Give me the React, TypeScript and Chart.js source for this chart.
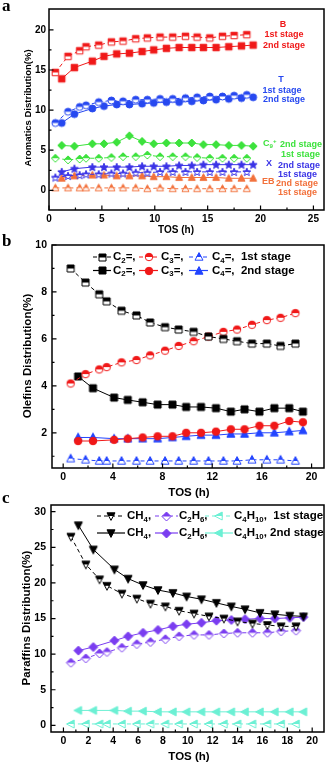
import React, { useEffect, useRef } from "react";
import { Chart, registerables } from "chart.js";
Chart.register(...registerables);

const FONT = "'Liberation Sans', Arial, sans-serif";
const SERIF = "'Liberation Serif', 'Times New Roman', serif";

// ---------- shared time axes ----------
const tos1st = [0.6, 1.8, 2.9, 3.5, 4.7, 5.9, 7.0, 8.2, 9.3, 10.5, 11.7, 12.9, 14.0, 15.2, 16.4, 17.5, 18.7];
const tos2nd = [1.2, 2.4, 4.1, 5.2, 6.4, 7.6, 8.8, 9.9, 11.1, 12.3, 13.5, 14.6, 15.8, 17.0, 18.2, 19.3];

// ---------- panel a: aromatics ----------
const aXTicks = [0, 5, 10, 15, 20, 25];
const aYTicks = [0, 5, 10, 15, 20];
const B1 = [14.7, 16.7, 17.4, 17.9, 18.1, 18.5, 18.6, 18.9, 19.0, 19.1, 19.1, 19.2, 19.1, 19.0, 19.2, 19.3, 19.4];
const B2 = [13.9, 15.3, 16.1, 16.7, 17.0, 17.1, 17.3, 17.5, 17.7, 17.8, 17.8, 17.8, 17.8, 17.9, 18.0, 18.1];
const T1 = [8.4, 9.8, 10.4, 10.6, 11.0, 11.2, 11.1, 11.3, 11.3, 11.4, 11.4, 11.5, 11.6, 11.7, 11.7, 11.8, 11.9];
const T2 = [8.4, 9.5, 10.2, 10.5, 10.7, 10.7, 10.8, 10.9, 11.0, 11.0, 11.1, 11.2, 11.3, 11.4, 11.5, 11.6];
const C9p1 = [4.0, 3.8, 3.9, 4.0, 4.0, 4.1, 4.2, 4.2, 4.4, 4.2, 4.2, 4.2, 4.1, 4.0, 4.0, 4.0, 4.0];
const C9p2 = [5.6, 5.5, 5.8, 5.8, 6.0, 6.8, 6.1, 5.8, 5.9, 5.9, 5.9, 5.7, 5.7, 5.6, 5.6, 5.5];
const X1 = [1.6, 1.8, 1.9, 2.0, 2.0, 2.1, 2.1, 2.2, 2.2, 2.3, 2.3, 2.3, 2.3, 2.3, 2.3, 2.3, 2.3];
const X2 = [2.3, 2.7, 2.9, 2.9, 2.9, 2.9, 3.0, 3.0, 3.0, 3.1, 3.1, 3.2, 3.2, 3.2, 3.2, 3.2];
const EB1 = [0.3, 0.3, 0.3, 0.3, 0.3, 0.3, 0.3, 0.3, 0.2, 0.3, 0.2, 0.2, 0.2, 0.2, 0.2, 0.2, 0.2];
const EB2 = [1.5, 1.8, 1.9, 1.9, 1.8, 1.8, 1.8, 1.7, 1.7, 1.6, 1.6, 1.6, 1.6, 1.5, 1.5, 1.5];

// ---------- panel b: olefins ----------
const bXTicks = [0, 4, 8, 12, 16, 20];
const bYTicks = [2, 4, 6, 8, 10];
const C2e1 = [9.0, 8.4, 7.9, 7.6, 7.2, 7.0, 6.7, 6.5, 6.4, 6.3, 6.1, 6.0, 5.9, 5.8, 5.8, 5.7, 5.8];
const C3e1 = [4.1, 4.5, 4.7, 4.8, 5.0, 5.1, 5.3, 5.5, 5.7, 5.9, 6.1, 6.3, 6.4, 6.6, 6.8, 6.9, 7.1];
const C4e1 = [0.9, 0.85, 0.8, 0.8, 0.8, 0.8, 0.8, 0.8, 0.8, 0.8, 0.8, 0.8, 0.8, 0.85, 0.85, 0.85, 0.8];
const C2e2 = [4.4, 3.9, 3.5, 3.4, 3.3, 3.2, 3.2, 3.1, 3.1, 3.05, 2.9, 3.0, 2.9, 3.05, 3.05, 2.9];
const C3e2 = [1.65, 1.65, 1.7, 1.75, 1.8, 1.85, 1.85, 2.0, 2.0, 2.05, 2.15, 2.15, 2.3, 2.3, 2.5, 2.45];
const C4e2 = [1.8, 1.8, 1.75, 1.75, 1.75, 1.75, 1.8, 1.85, 1.9, 1.9, 1.95, 1.95, 2.0, 2.0, 2.05, 2.1];

// ---------- panel c: paraffins ----------
const cXTicks = [0, 2, 4, 6, 8, 10, 12, 14, 16, 18, 20];
const cYTicks = [0, 5, 10, 15, 20, 25, 30];
const CH4a1 = [26.5, 22.6, 20.5, 19.6, 18.5, 17.8, 17.1, 16.7, 16.1, 15.7, 15.3, 15.0, 14.6, 14.3, 14.1, 13.9, 13.9];
const CH4a2 = [28.1, 24.7, 21.9, 20.6, 19.7, 19.0, 18.6, 18.1, 17.7, 17.2, 16.7, 16.3, 15.8, 15.6, 15.4, 15.3];
const C2H6a1 = [8.8, 9.4, 10.1, 10.3, 10.9, 11.4, 11.7, 12.1, 12.5, 12.7, 12.7, 12.9, 13.0, 13.0, 13.0, 13.2, 13.3];
const C2H6a2 = [10.5, 11.0, 11.9, 12.5, 13.0, 13.4, 13.9, 14.2, 14.4, 14.7, 14.8, 14.9, 15.0, 15.0, 15.1, 15.2];
const C4H10a1 = [0.2, 0.2, 0.2, 0.2, 0.2, 0.2, 0.2, 0.2, 0.2, 0.2, 0.2, 0.2, 0.2, 0.2, 0.2, 0.2, 0.2];
const C4H10a2 = [2.1, 2.1, 2.1, 2.0, 2.0, 1.9, 1.9, 1.9, 1.9, 1.9, 1.9, 1.9, 1.9, 1.9, 1.9, 1.9];

// ---------- colours ----------
const RED = "#f01818";
const BLUE_T = "#2648f0";
const GREEN = "#3de23d";
const VIOLET = "#3a33e6";
const ORANGE = "#f2703a";
const BLUE = "#2244ff";
const PURPLE = "#7a3df0";
const AQUA = "#6cf0d4";

type Shape = "square" | "circle" | "tri" | "dtri" | "ltri" | "diamond" | "star";

function marker(shape: Shape, color: string, size: number, half: boolean): HTMLCanvasElement {
  const S = Math.ceil(size + 4);
  const c = document.createElement("canvas");
  c.width = S;
  c.height = S;
  const g = c.getContext("2d")!;
  const cx = S / 2, cy = S / 2, r = size / 2;
  const path = () => {
    g.beginPath();
    if (shape === "square") g.rect(cx - r, cy - r, 2 * r, 2 * r);
    else if (shape === "circle") g.arc(cx, cy, r, 0, Math.PI * 2);
    else if (shape === "tri") { g.moveTo(cx, cy - r * 1.1); g.lineTo(cx + r, cy + r * 0.8); g.lineTo(cx - r, cy + r * 0.8); }
    else if (shape === "dtri") { g.moveTo(cx, cy + r * 1.1); g.lineTo(cx + r, cy - r * 0.8); g.lineTo(cx - r, cy - r * 0.8); }
    else if (shape === "ltri") { g.moveTo(cx - r * 1.1, cy); g.lineTo(cx + r * 0.8, cy - r); g.lineTo(cx + r * 0.8, cy + r); }
    else if (shape === "diamond") { g.moveTo(cx, cy - r); g.lineTo(cx + r, cy); g.lineTo(cx, cy + r); g.lineTo(cx - r, cy); }
    else if (shape === "star") {
      for (let i = 0; i < 10; i++) {
        const rr = i % 2 === 0 ? r * 1.05 : r * 0.45;
        const a = -Math.PI / 2 + (i * Math.PI) / 5;
        const px = cx + rr * Math.cos(a), py = cy + rr * Math.sin(a) + r * 0.08;
        if (i === 0) g.moveTo(px, py); else g.lineTo(px, py);
      }
    }
    g.closePath();
  };
  if (half) {
    path(); g.fillStyle = "#fff"; g.fill();
    g.save(); path(); g.clip(); g.fillStyle = color; g.fillRect(0, 0, S, cy); g.restore();
  } else {
    path(); g.fillStyle = color; g.fill();
  }
  path(); g.strokeStyle = color; g.lineWidth = 1; g.stroke();
  return c;
}

function parseRich(s: string) {
  const out: { t: string; k: "n" | "sub" | "sup" }[] = [];
  const re = /_\{([^}]*)\}|\^\{([^}]*)\}|([^_^]+)/g;
  let m: RegExpExecArray | null;
  while ((m = re.exec(s))) {
    if (m[1] !== undefined) out.push({ t: m[1], k: "sub" });
    else if (m[2] !== undefined) out.push({ t: m[2], k: "sup" });
    else out.push({ t: m[3], k: "n" });
  }
  return out;
}

function drawRich(ctx: CanvasRenderingContext2D, s: string, x: number, y: number, size: number, color: string, align = "left") {
  const parts = parseRich(s);
  const fN = `bold ${size}px ${FONT}`;
  const fS = `bold ${size * 0.68}px ${FONT}`;
  let w = 0;
  for (const p of parts) { ctx.font = p.k === "n" ? fN : fS; w += ctx.measureText(p.t).width; }
  let cx = align === "center" ? x - w / 2 : align === "right" ? x - w : x;
  ctx.textBaseline = "middle";
  ctx.textAlign = "left";
  ctx.fillStyle = color;
  for (const p of parts) {
    ctx.font = p.k === "n" ? fN : fS;
    const dy = p.k === "sub" ? size * 0.3 : p.k === "sup" ? -size * 0.3 : 0;
    ctx.fillText(p.t, cx, y + dy);
    cx += ctx.measureText(p.t).width;
  }
}

function drawFrame(chart: any, xMajor: number[], xMinor: number[], yMajor: number[], yMinor: number[]) {
  const { ctx, chartArea: a, scales } = chart;
  ctx.save();
  ctx.strokeStyle = "#000";
  ctx.lineWidth = 1.5;
  ctx.strokeRect(a.left, a.top, a.right - a.left, a.bottom - a.top);
  ctx.lineWidth = 1.2;
  ctx.beginPath();
  const tx = (v: number, L: number) => { const p = scales.x.getPixelForValue(v); ctx.moveTo(p, a.bottom); ctx.lineTo(p, a.bottom - L); };
  const ty = (v: number, L: number) => { const p = scales.y.getPixelForValue(v); ctx.moveTo(a.left, p); ctx.lineTo(a.left + L, p); };
  xMajor.forEach((v) => tx(v, 4.5));
  xMinor.forEach((v) => tx(v, 2.5));
  yMajor.forEach((v) => ty(v, 4.5));
  yMinor.forEach((v) => ty(v, 2.5));
  ctx.stroke();
  ctx.restore();
}

function vText(ctx: CanvasRenderingContext2D, s: string, x: number, y: number, size: number) {
  ctx.save();
  ctx.translate(x, y);
  ctx.rotate(-Math.PI / 2);
  ctx.font = `bold ${size}px ${FONT}`;
  ctx.fillStyle = "#000";
  ctx.textAlign = "center";
  ctx.textBaseline = "middle";
  ctx.fillText(s, 0, 0);
  ctx.restore();
}

function hText(ctx: CanvasRenderingContext2D, s: string, x: number, y: number, size: number, family = FONT) {
  ctx.save();
  ctx.font = `bold ${size}px ${family}`;
  ctx.fillStyle = "#000";
  ctx.textAlign = "center";
  ctx.textBaseline = "middle";
  ctx.fillText(s, x, y);
  ctx.restore();
}

function legendItem(ctx: CanvasRenderingContext2D, x0: number, x1: number, y: number, color: string, dashed: boolean, m: HTMLCanvasElement) {
  ctx.save();
  ctx.strokeStyle = color;
  ctx.lineWidth = 1.2;
  ctx.setLineDash(dashed ? [4, 3] : []);
  ctx.beginPath();
  ctx.moveTo(x0, y);
  ctx.lineTo(x1, y);
  ctx.stroke();
  ctx.restore();
  const mx = (x0 + x1) / 2;
  ctx.drawImage(m, Math.round(mx - m.width / 2), Math.round(y - m.height / 2));
}

function ds(xs: number[], ys: number[], color: string, m: HTMLCanvasElement, dashed: boolean) {
  return {
    data: xs.map((x, i) => ({ x, y: ys[i] })),
    showLine: true,
    borderColor: color,
    backgroundColor: color,
    borderWidth: 1,
    borderDash: dashed ? [4, 3] : [],
    pointStyle: m,
    pointRadius: 4,
    pointHoverRadius: 4,
    tension: 0,
    fill: false,
  };
}

function scales(xmin: number, xmax: number, xt: number[], ymin: number, ymax: number, yt: number[], tickSize: number, yw: number, ypad: number) {
  const tickFont = { family: FONT, weight: "bold" as const, size: tickSize };
  return {
    x: {
      type: "linear" as const, min: xmin, max: xmax,
      grid: { display: false, drawTicks: false }, border: { display: false },
      ticks: { font: tickFont, color: "#000", padding: 3, maxRotation: 0, autoSkip: false, callback: (v: any) => String(v) },
      afterBuildTicks: (s: any) => { s.ticks = xt.map((v) => ({ value: v })); },
      afterFit: (s: any) => { s.height = 20; },
    },
    y: {
      type: "linear" as const, min: ymin, max: ymax,
      grid: { display: false, drawTicks: false }, border: { display: false },
      ticks: { font: tickFont, color: "#000", padding: ypad, autoSkip: false, callback: (v: any) => String(v) },
      afterBuildTicks: (s: any) => { s.ticks = yt.map((v) => ({ value: v })); },
      afterFit: (s: any) => { s.width = yw; },
    },
  };
}

const H = 769;

function configA() {
  const datasets = [
    ds(tos1st, B1, RED, marker("square", RED, 6.5, true), true),
    ds(tos2nd, B2, RED, marker("square", RED, 6.5, false), false),
    ds(tos1st, T1, BLUE_T, marker("circle", BLUE_T, 7, true), true),
    ds(tos2nd, T2, BLUE_T, marker("circle", BLUE_T, 7, false), false),
    ds(tos1st, C9p1, GREEN, marker("diamond", GREEN, 8, true), true),
    ds(tos2nd, C9p2, GREEN, marker("diamond", GREEN, 8, false), false),
    ds(tos1st, X1, VIOLET, marker("star", VIOLET, 8, true), true),
    ds(tos2nd, X2, VIOLET, marker("star", VIOLET, 8, false), false),
    ds(tos1st, EB1, ORANGE, marker("tri", ORANGE, 7, true), true),
    ds(tos2nd, EB2, ORANGE, marker("tri", ORANGE, 7, false), false),
  ];
  const deco = {
    id: "decoA",
    afterDraw(chart: any) {
      const ctx = chart.ctx;
      drawFrame(chart, aXTicks, [2.5, 7.5, 12.5, 17.5, 22.5], aYTicks, [2.5, 7.5, 12.5, 17.5]);
      ctx.save();
      ctx.font = `bold 17px ${SERIF}`;
      ctx.fillStyle = "#000";
      ctx.textBaseline = "alphabetic";
      ctx.fillText("a", 2, 11);
      ctx.restore();
      vText(ctx, "Aromatics Distribution(%)", 28, 108, 9.5);
      hText(ctx, "TOS (h)", 176, 230, 10);
      const f = 9;
      drawRich(ctx, "B", 283, 25, f, RED, "center");
      drawRich(ctx, "1st stage", 284, 35, f, RED, "center");
      drawRich(ctx, "2nd stage", 284, 45.5, f, RED, "center");
      drawRich(ctx, "T", 281, 80, f, BLUE_T, "center");
      drawRich(ctx, "1st stage", 282, 90.5, f, BLUE_T, "center");
      drawRich(ctx, "2nd stage", 284, 100, f, BLUE_T, "center");
      drawRich(ctx, "C_{9}^{+}", 263, 144, f, GREEN);
      drawRich(ctx, "2nd stage", 280, 145, f, GREEN);
      drawRich(ctx, "1st stage", 281, 155, f, GREEN);
      drawRich(ctx, "X", 269, 164, f, VIOLET, "center");
      drawRich(ctx, "2nd stage", 278, 165.5, f, VIOLET);
      drawRich(ctx, "1st stage", 278, 174.5, f, VIOLET);
      drawRich(ctx, "EB", 262, 182, f, ORANGE);
      drawRich(ctx, "2nd stage", 276, 183.5, f, ORANGE);
      drawRich(ctx, "1st stage", 278, 192.5, f, ORANGE);
    },
  };
  return {
    type: "scatter" as const,
    data: { datasets },
    options: {
      responsive: false, animation: false as const,
      layout: { padding: { top: 6, right: 4, left: 0, bottom: H - 210 - 20 } },
      plugins: { legend: { display: false }, tooltip: { enabled: false } },
      scales: scales(0, 26, aXTicks, -2.45, 22.6, aYTicks, 10, 49, 3),
    },
    plugins: [deco],
  };
}

function configB() {
  const m = {
    c2o: marker("square", "#000", 7, true), c2f: marker("square", "#000", 7, false),
    c3o: marker("circle", RED, 7.5, true), c3f: marker("circle", RED, 7.5, false),
    c4o: marker("tri", BLUE, 8, true), c4f: marker("tri", BLUE, 8, false),
  };
  const datasets = [
    ds(tos1st, C2e1, "#000", m.c2o, true),
    ds(tos1st, C3e1, RED, m.c3o, true),
    ds(tos1st, C4e1, BLUE, m.c4o, true),
    ds(tos2nd, C2e2, "#000", m.c2f, false),
    ds(tos2nd, C3e2, RED, m.c3f, false),
    ds(tos2nd, C4e2, BLUE, m.c4f, false),
  ];
  const deco = {
    id: "decoB",
    afterDraw(chart: any) {
      const ctx = chart.ctx;
      drawFrame(chart, bXTicks, [2, 6, 10, 14, 18], bYTicks, [1, 3, 5, 7, 9]);
      ctx.save();
      ctx.font = `bold 17px ${SERIF}`;
      ctx.fillStyle = "#000";
      ctx.textBaseline = "alphabetic";
      ctx.fillText("b", 2, 246);
      ctx.restore();
      vText(ctx, "Olefins Distribution(%)", 28, 356, 11.5);
      hText(ctx, "TOS (h)", 189, 493, 11.5);
      const f = 11.5;
      const r1 = 257, r2 = 270.5;
      legendItem(ctx, 93, 111, r1, "#000", true, m.c2o);
      drawRich(ctx, "C_{2}=,", 113, r1, f, "#000");
      legendItem(ctx, 139, 158, r1, RED, true, m.c3o);
      drawRich(ctx, "C_{3}=,", 161, r1, f, "#000");
      legendItem(ctx, 189, 208, r1, BLUE, true, m.c4o);
      drawRich(ctx, "C_{4}=,  1st stage", 212, r1, f, "#000");
      legendItem(ctx, 93, 111, r2, "#000", false, m.c2f);
      drawRich(ctx, "C_{2}=,", 113, r2, f, "#000");
      legendItem(ctx, 139, 158, r2, RED, false, m.c3f);
      drawRich(ctx, "C_{3}=,", 161, r2, f, "#000");
      legendItem(ctx, 189, 208, r2, BLUE, false, m.c4f);
      drawRich(ctx, "C_{4}=,  2nd stage", 212, r2, f, "#000");
    },
  };
  return {
    type: "scatter" as const,
    data: { datasets },
    options: {
      responsive: false, animation: false as const,
      layout: { padding: { top: 245, right: 4, left: 0, bottom: H - 468 - 20 } },
      plugins: { legend: { display: false }, tooltip: { enabled: false } },
      scales: scales(-0.9, 21, bXTicks, 0.5, 10, bYTicks, 10.5, 52, 5),
    },
    plugins: [deco],
  };
}

function configC() {
  const m = {
    ch4o: marker("dtri", "#000", 8, true), ch4f: marker("dtri", "#000", 8, false),
    c2o: marker("diamond", PURPLE, 9, true), c2f: marker("diamond", PURPLE, 9, false),
    c4o: marker("ltri", AQUA, 8, true), c4f: marker("ltri", AQUA, 8, false),
  };
  const datasets = [
    ds(tos1st, CH4a1, "#000", m.ch4o, true),
    ds(tos1st, C2H6a1, PURPLE, m.c2o, true),
    ds(tos1st, C4H10a1, AQUA, m.c4o, true),
    ds(tos2nd, CH4a2, "#000", m.ch4f, false),
    ds(tos2nd, C2H6a2, PURPLE, m.c2f, false),
    ds(tos2nd, C4H10a2, AQUA, m.c4f, false),
  ];
  const deco = {
    id: "decoC",
    afterDraw(chart: any) {
      const ctx = chart.ctx;
      drawFrame(chart, cXTicks, [1, 3, 5, 7, 9, 11, 13, 15, 17, 19], cYTicks, [2.5, 7.5, 12.5, 17.5, 22.5, 27.5]);
      ctx.save();
      ctx.font = `bold 17px ${SERIF}`;
      ctx.fillStyle = "#000";
      ctx.textBaseline = "alphabetic";
      ctx.fillText("c", 2, 503);
      ctx.restore();
      vText(ctx, "Paraffins Distribution(%)", 27, 618, 11.5);
      hText(ctx, "TOS (h)", 189, 757, 11.5);
      const f = 11.5;
      const r1 = 516, r2 = 533;
      legendItem(ctx, 97, 125, r1, "#000", true, m.ch4o);
      drawRich(ctx, "CH_{4},", 127, r1, f, "#000");
      legendItem(ctx, 155, 178, r1, PURPLE, true, m.c2o);
      drawRich(ctx, "C_{2}H_{6},", 179, r1, f, "#000");
      legendItem(ctx, 205, 233, r1, AQUA, true, m.c4o);
      drawRich(ctx, "C_{4}H_{10},  1st stage", 234, r1, f, "#000");
      legendItem(ctx, 97, 125, r2, "#000", false, m.ch4f);
      drawRich(ctx, "CH_{4},", 127, r2, f, "#000");
      legendItem(ctx, 155, 178, r2, PURPLE, false, m.c2f);
      drawRich(ctx, "C_{2}H_{6},", 179, r2, f, "#000");
      legendItem(ctx, 205, 233, r2, AQUA, false, m.c4f);
      drawRich(ctx, "C_{4}H_{10}, 2nd stage", 234, r2, f, "#000");
    },
  };
  return {
    type: "scatter" as const,
    data: { datasets },
    options: {
      responsive: false, animation: false as const,
      layout: { padding: { top: 505, right: 4, left: 0, bottom: H - 732 - 20 } },
      plugins: { legend: { display: false }, tooltip: { enabled: false } },
      scales: scales(-1, 20.95, cXTicks, -0.93, 30.94, cYTicks, 10.5, 51, 5),
    },
    plugins: [deco],
  };
}

function Panel({ make }: { make: () => any }) {
  const ref = useRef<HTMLCanvasElement>(null);
  useEffect(() => {
    const chart = new Chart(ref.current!, make());
    return () => chart.destroy();
  }, [make]);
  return (
    <canvas
      ref={ref}
      width={329}
      height={H}
      style={{ position: "absolute", left: 0, top: 0, width: 329, height: H, pointerEvents: "none" }}
    />
  );
}

export default function App() {
  return (
    <div style={{ position: "absolute", left: 0, top: 0, width: 329, height: H, background: "#fff", overflow: "hidden" }}>
      <Panel make={configA} />
      <Panel make={configB} />
      <Panel make={configC} />
    </div>
  );
}
